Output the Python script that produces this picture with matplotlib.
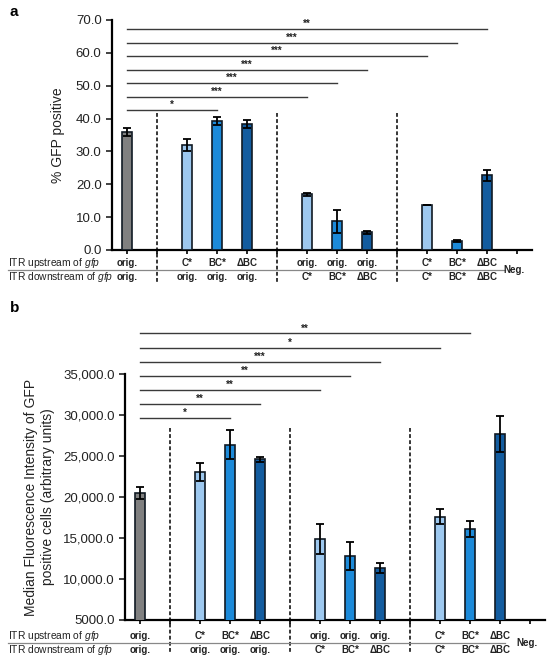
import numpy as np
import matplotlib
matplotlib.use('Agg')
import matplotlib.pyplot as plt
from matplotlib.transforms import blended_transform_factory

plt.rcParams['font.family'] = ['Liberation Sans', 'DejaVu Sans']
plt.rcParams['mathtext.fontset'] = 'custom'
plt.rcParams['mathtext.it'] = 'Liberation Sans:italic'

# данные
positions = [0, 2, 3, 4, 6, 7, 8, 10, 11, 12]
upstream = ['orig.', 'C*', 'BC*', 'ΔBC', 'orig.', 'orig.', 'orig.', 'C*', 'BC*', 'ΔBC']
downstream = ['orig.', 'orig.', 'orig.', 'orig.', 'C*', 'BC*', 'ΔBC', 'C*', 'BC*', 'ΔBC']

gfp_pct = [36.0, 32.0, 39.3, 38.4, 16.9, 8.7, 5.4, 13.6, 2.7, 22.7]
gfp_err = [1.2, 1.9, 1.2, 1.2, 0.6, 3.4, 0.5, 0.0, 0.4, 1.6]

mfi = [20500, 23100, 26400, 24600, 14900, 12800, 11300, 17600, 16100, 27700]
mfi_err = [700, 1100, 1800, 300, 1800, 1700, 600, 900, 1000, 2200]

sig_a_end = [3, 6, 7, 8, 10, 11, 12]
sig_a_lab = ['*', '***', '***', '***', '***', '***', '**']
sig_b_end = [3, 4, 6, 7, 8, 10, 11]
sig_b_lab = ['*', '**', '**', '**', '***', '*', '**']

yticks_a = [0, 10, 20, 30, 40, 50, 60, 70]
yticks_b = [5000, 10000, 15000, 20000, 25000, 30000, 35000]
yticklabels_b = ['5000.0', '10,000.0', '15,000.0', '20,000.0', '25,000.0', '30,000.0', '35,000.0']

gray = '#808080'
light = '#9dc8ef'
mid = '#1c8ad9'
dark = '#135c9f'
colors = [gray, light, mid, dark, light, mid, dark, light, mid, dark]
edge = '#111a24'
txt = '#222222'

fig = plt.figure(figsize=(5.5, 6.58), dpi=100)
ax_a = fig.add_axes([112 / 550, 1 - 250 / 658, 420 / 550, 230 / 658])
ax_b = fig.add_axes([125 / 550, 1 - 620 / 658, 420 / 550, 246 / 658])


def draw_panel(ax, vals, errs, ends, labs, base, step, dash_top, row_y):
    ax.bar(positions, vals, width=0.36, color=colors, edgecolor=edge, linewidth=1.2, zorder=3)
    ax.errorbar(positions, vals, yerr=errs, fmt='none', ecolor='black',
                elinewidth=1.3, capsize=3, capthick=1.3, zorder=4)
    ax.set_xlim(-0.5, 13.5)
    ax.spines['top'].set_visible(False)
    ax.spines['right'].set_visible(False)
    ax.spines['left'].set_linewidth(1.6)
    ax.spines['bottom'].set_linewidth(1.6)
    ax.set_xticks(range(14))
    ax.set_xticklabels([])
    ax.tick_params(axis='x', length=3, width=1.2)
    ax.tick_params(axis='y', length=4, width=1.2, labelsize=9.5, colors=txt)

    # скобки значимости
    x0 = positions[0]
    for i, (e, lab) in enumerate(zip(ends, labs)):
        h = base + step * i
        ax.plot([x0, e], [h, h], color='#3a3a3a', lw=1.0, clip_on=False, zorder=2)
        ax.text((x0 + e) / 2, h, lab, ha='center', va='bottom', fontsize=7,
                fontweight='bold', color=txt, clip_on=False)

    # пунктирные разделители
    tr = ax.get_xaxis_transform()
    for xd in [1, 5, 9]:
        ax.plot([xd, xd], [dash_top, -0.14], transform=tr, color='black',
                lw=1.1, ls=(0, (2.5, 1.5)), clip_on=False, zorder=1)

    # таблица под осью
    up_y, sep_y, down_y = row_y
    for p, u, d in zip(positions, upstream, downstream):
        ax.text(p, up_y, u, transform=tr, ha='center', va='center', fontsize=7,
                fontweight='bold', color=txt)
        ax.text(p, down_y, d, transform=tr, ha='center', va='center', fontsize=7,
                fontweight='bold', color=txt)
    ax.text(12.9, sep_y, 'Neg.', transform=tr, ha='center', va='center', fontsize=7,
            fontweight='bold', color=txt)
    trf = blended_transform_factory(fig.transFigure, ax.transAxes)
    ax.text(8 / 550, up_y, 'ITR upstream of $\\mathit{gfp}$', transform=trf, ha='left',
            va='center', fontsize=7.4, color=txt)
    ax.text(8 / 550, down_y, 'ITR downstream of $\\mathit{gfp}$', transform=trf, ha='left',
            va='center', fontsize=7.4, color=txt)
    ax.plot([8 / 550, 505 / 550], [sep_y, sep_y], transform=trf, color='#888888',
            lw=0.9, clip_on=False)


draw_panel(ax_a, gfp_pct, gfp_err, sig_a_end, sig_a_lab, 42.6, 4.1, 0.596,
           (-0.057, -0.087, -0.117))
ax_a.set_ylim(0, 70)
ax_a.set_yticks(yticks_a)
ax_a.set_yticklabels([f'{t:.1f}' for t in yticks_a])
ax_a.set_ylabel('% GFP positive', fontsize=10, color=txt, labelpad=8)

draw_panel(ax_b, mfi, mfi_err, sig_b_end, sig_b_lab, 29630, 1720, 0.78,
           (-0.065, -0.093, -0.122))
ax_b.set_ylim(5000, 35000)
ax_b.set_yticks(yticks_b)
ax_b.set_yticklabels(yticklabels_b)
ax_b.set_ylabel('Median Fluorescence Intensity of GFP\npositive cells (arbitrary units)',
                fontsize=10, color=txt, labelpad=6, linespacing=1.25)

fig.text(10 / 550, 1 - 12 / 658, 'a', fontsize=11, fontweight='bold', va='center')
fig.text(10 / 550, 1 - 308 / 658, 'b', fontsize=11, fontweight='bold', va='center')

fig.savefig('out.png', dpi=100)
